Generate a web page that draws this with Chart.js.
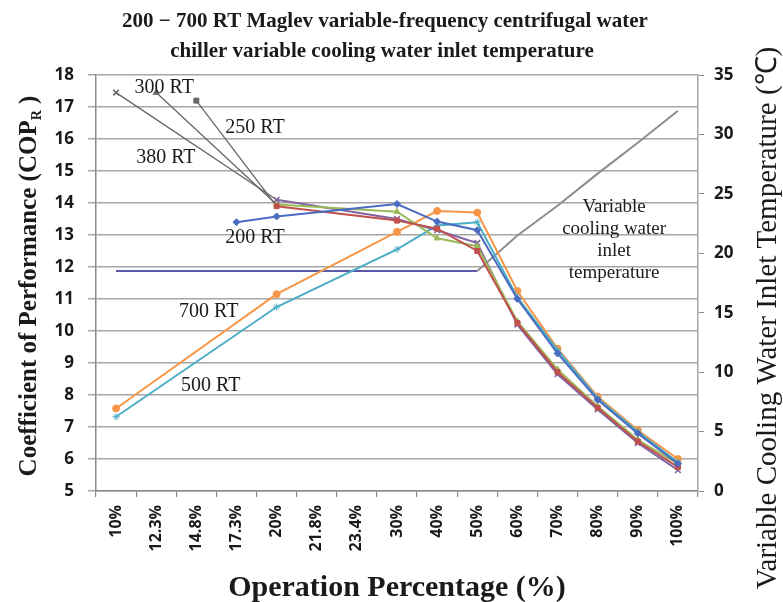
<!DOCTYPE html>
<html>
<head>
<meta charset="utf-8">
<script src="https://cdn.jsdelivr.net/npm/chart.js@4.4.1/dist/chart.umd.min.js"></script>
<style>
  html, body { margin: 0; padding: 0; background: #fff; }
</style>
</head>
<body>
<canvas id="chart" width="783" height="602"></canvas>
<script>
// categories on the x axis (operation percentage)
const categories = ["10%", "12.3%", "14.8%", "17.3%", "20%", "21.8%", "23.4%", "30%", "40%", "50%", "60%", "70%", "80%", "90%", "100%"];

// COP_R per chiller size (null = no reading at that load)
const rt200 = [null, null, null, 13.4, 13.58, null, null, 13.97, 13.42, 13.15, 11.0, 9.3, 7.85, 6.8, 5.85];
const rt250 = [null, null, 17.2, null, 13.9, null, null, 13.45, 13.2, 12.5, 10.25, 8.72, 7.6, 6.55, 5.75];
const rt300 = [null, 17.45, null, null, 13.95, null, null, 13.73, 12.9, 12.65, 10.3, 8.8, 7.65, 6.6, 5.85];
const rt380 = [17.45, null, null, null, 14.1, null, null, 13.5, 13.15, 12.75, 10.2, 8.65, 7.55, 6.5, 5.65];
const rt500 = [7.32, null, null, null, 10.75, null, null, 12.55, 13.3, 13.4, 11.05, 9.4, 7.9, 6.85, 5.9];
const rt700 = [7.58, null, null, null, 11.15, null, null, 13.1, 13.75, 13.7, 11.25, 9.45, 7.95, 6.9, 6.0];

// cooling water inlet temperature (right axis, degC)
const waterTemp = [18.5, 18.5, 18.5, 18.5, 18.5, 18.5, 18.5, 18.5, 18.5, 18.5, 21.5, 24, 26.7, 29.3, 32];

// tick labels
const copTicks = [5, 6, 7, 8, 9, 10, 11, 12, 13, 14, 15, 16, 17, 18];
const tempTicks = [0, 5, 10, 15, 20, 25, 30, 35];

// in-plot labels, placed in data units (category index, COP value)
const seriesLabels = [
  { text: "300 RT", x: 1.2, y: 17.6 },
  { text: "250 RT", x: 3.46, y: 16.35 },
  { text: "380 RT", x: 1.24, y: 15.4 },
  { text: "200 RT", x: 3.46, y: 12.9 },
  { text: "700 RT", x: 2.31, y: 10.6 },
  { text: "500 RT", x: 2.36, y: 8.3 },
];
const tempLabel = { lines: ["Variable", "cooling water", "inlet", "temperature"], x: 12.41, y: 12.84 };

const grey = "#666666";
const SERIF = "'Liberation Serif', 'Times New Roman', serif";
const SANS = "'Open Sans', 'Liberation Sans', sans-serif";

function rtLine(label, data, color, style, greyLead) {
  return {
    label: label,
    data: data,
    yAxisID: "y",
    borderColor: color,
    backgroundColor: color,
    borderWidth: 2,
    pointStyle: style,
    pointRadius: style === "crossRot" ? 4 : 3.5,
    pointBorderWidth: style === "crossRot" ? 1.6 : 1,
    pointBackgroundColor: ctx => (greyLead && ctx.dataIndex < 4 ? grey : color),
    pointBorderColor: ctx => (greyLead && ctx.dataIndex < 4 ? grey : color),
    spanGaps: true,
    tension: 0,
    segment: {
      borderColor: ctx => (greyLead && ctx.p1DataIndex <= 4 ? grey : undefined),
      borderWidth: ctx => (greyLead && ctx.p1DataIndex <= 4 ? 1.3 : undefined),
    },
  };
}

const textPlugin = {
  id: "texts",
  afterDraw(chart) {
    const { ctx, scales } = chart;
    const sx = scales.x, sy = scales.y;
    ctx.save();
    ctx.fillStyle = "#1a1a1a";
    ctx.textAlign = "center";
    ctx.textBaseline = "middle";

    // title
    ctx.font = "bold 21px " + SERIF;
    ctx.fillText("200 \u2212 700 RT Maglev variable-frequency centrifugal water", 385, 22);
    ctx.fillText("chiller variable cooling water inlet temperature", 382, 52);

    // series labels
    ctx.font = "20px " + SERIF;
    seriesLabels.forEach(l => {
      ctx.fillText(l.text, sx.getPixelForValue(l.x), sy.getPixelForValue(l.y));
    });
    ctx.font = "19px " + SERIF;
    const cx = sx.getPixelForValue(tempLabel.x), cy = sy.getPixelForValue(tempLabel.y);
    tempLabel.lines.forEach((t, i) => {
      ctx.fillText(t, cx, cy + (i - (tempLabel.lines.length - 1) / 2) * 22);
    });

    // x axis title
    ctx.font = "bold 30px " + SERIF;
    ctx.fillText("Operation Percentage (%)", 397, 588);

    // left axis title with subscript R
    ctx.save();
    ctx.translate(30, 286);
    ctx.rotate(-Math.PI / 2);
    ctx.textAlign = "left";
    const main = "Coefficient of Performance (COP";
    ctx.font = "bold 25px " + SERIF;
    const w1 = ctx.measureText(main).width;
    ctx.font = "bold 14px " + SERIF;
    const w2 = ctx.measureText("R").width;
    ctx.font = "bold 25px " + SERIF;
    const w3 = ctx.measureText(" )").width;
    let x0 = -(w1 + w2 + w3) / 2;
    ctx.fillText(main, x0, 0);
    ctx.font = "bold 14px " + SERIF;
    ctx.fillText("R", x0 + w1, 7);
    ctx.font = "bold 25px " + SERIF;
    ctx.fillText(" )", x0 + w1 + w2, 0);
    ctx.restore();

    // right axis title
    ctx.save();
    ctx.translate(768, 318);
    ctx.rotate(-Math.PI / 2);
    ctx.font = "29px " + SERIF;
    ctx.fillText("Variable Cooling Water Inlet Temperature (\u2103)", 0, 0);
    ctx.restore();

    ctx.restore();
  },
};

new Chart(document.getElementById("chart").getContext("2d"), {
  type: "line",
  data: {
    labels: categories,
    datasets: [
      rtLine("200 RT", rt200, "#4a6cc0", "rectRot", false),
      rtLine("250 RT", rt250, "#c0504d", "rect", true),
      rtLine("300 RT", rt300, "#9bbb59", "triangle", true),
      rtLine("380 RT", rt380, "#8064a2", "crossRot", true),
      rtLine("500 RT", rt500, "#4bacc6", "star", false),
      rtLine("700 RT", rt700, "#f79646", "circle", false),
      {
        label: "Variable cooling water inlet temperature",
        data: waterTemp,
        yAxisID: "y1",
        borderColor: "#5a5aa8",
        borderWidth: 2,
        pointRadius: 0,
        tension: 0,
        segment: {
          borderColor: ctx => (ctx.p0DataIndex >= 9 ? "#8c8c8c" : undefined),
        },
      },
    ],
  },
  options: {
    responsive: false,
    animation: false,
    layout: { padding: { left: 46, right: 30, top: 75, bottom: 41 } },
    plugins: {
      legend: { display: false },
      tooltip: { enabled: false },
    },
    scales: {
      x: {
        offset: true,
        grid: { offset: true, drawOnChartArea: false, tickLength: 6, color: "#8c8c8c", lineWidth: 1.2 },
        border: { color: "#8c8c8c", width: 1.5 },
        ticks: {
          autoSkip: false,
          maxRotation: 90,
          minRotation: 90,
          padding: 8,
          color: "#1a1a1a",
          font: { family: SANS, weight: "bold", size: 16 },
        },
        afterFit: s => { s.height = 70; },
      },
      y: {
        position: "left",
        min: copTicks[0],
        max: copTicks[copTicks.length - 1],
        afterBuildTicks: s => { s.ticks = copTicks.map(v => ({ value: v })); },
        grid: { color: "#a6a6a6", lineWidth: 1.5, tickLength: 8 },
        border: { color: "#8c8c8c", width: 1.5 },
        ticks: { padding: 14, color: "#1a1a1a", font: { family: SANS, weight: "bold", size: 17 } },
        afterFit: s => { s.width = 50; },
      },
      y1: {
        position: "right",
        min: tempTicks[0],
        max: tempTicks[tempTicks.length - 1],
        afterBuildTicks: s => { s.ticks = tempTicks.map(v => ({ value: v })); },
        grid: { drawOnChartArea: false, tickLength: 6, color: "#8c8c8c" },
        border: { color: "#a6a6a6", width: 1.5 },
        ticks: { padding: 10, color: "#1a1a1a", font: { family: SANS, weight: "bold", size: 17 } },
        afterFit: s => { s.width = 55; },
      },
    },
  },
  plugins: [textPlugin],
});
</script>
</body>
</html>
